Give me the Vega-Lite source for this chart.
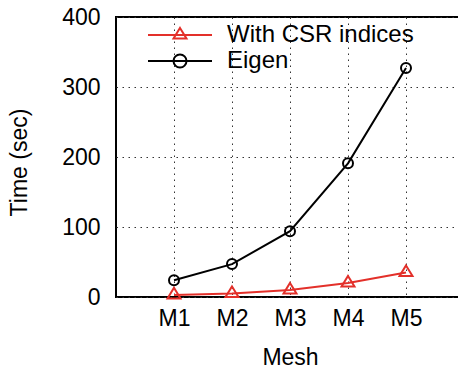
{
  "$schema": "https://vega.github.io/schema/vega-lite/v6.json",
  "autosize": "none",
  "padding": {"left": 116, "top": 17, "right": 0, "bottom": 72},
  "width": 348,
  "height": 280,
  "background": "white",
  "data": {
    "values": [
      {"mesh": "M1", "series": "With CSR indices", "time": 3},
      {"mesh": "M2", "series": "With CSR indices", "time": 5},
      {"mesh": "M3", "series": "With CSR indices", "time": 10},
      {"mesh": "M4", "series": "With CSR indices", "time": 20},
      {"mesh": "M5", "series": "With CSR indices", "time": 35},
      {"mesh": "M1", "series": "Eigen", "time": 24},
      {"mesh": "M2", "series": "Eigen", "time": 47},
      {"mesh": "M3", "series": "Eigen", "time": 94},
      {"mesh": "M4", "series": "Eigen", "time": 191},
      {"mesh": "M5", "series": "Eigen", "time": 327}
    ]
  },
  "encoding": {
    "x": {
      "field": "mesh", "type": "ordinal", "title": "Mesh",
      "scale": {"type": "point", "padding": 1},
      "axis": {"labelAngle": 0, "labelPadding": 10, "titlePadding": 16}
    },
    "y": {
      "field": "time", "type": "quantitative", "title": "Time (sec)",
      "scale": {"domain": [0, 400], "nice": false},
      "axis": {"values": [0, 100, 200, 300, 400], "labelPadding": 16, "titlePadding": 30, "titleY": 145}
    }
  },
  "layer": [
    {
      "mark": {"type": "line", "strokeWidth": 2},
      "encoding": {
        "color": {"field": "series", "type": "nominal", "legend": null,
          "scale": {"domain": ["With CSR indices", "Eigen"], "range": ["#e3302a", "#000000"]}}
      }
    },
    {
      "mark": {"type": "point", "filled": false, "strokeWidth": 2, "opacity": 1},
      "encoding": {
        "color": {"field": "series", "type": "nominal", "legend": null,
          "scale": {"domain": ["With CSR indices", "Eigen"], "range": ["#e3302a", "#000000"]}},
        "shape": {"field": "series", "type": "nominal", "legend": null,
          "scale": {"domain": ["With CSR indices", "Eigen"], "range": ["M0,-1.42L1.3,0.72L-1.3,0.72Z", "circle"]}},
        "size": {"value": 100}
      }
    },
    {
      "mark": {"type": "point", "filled": false, "strokeWidth": 2, "opacity": 0},
      "encoding": {
        "color": {"field": "series", "type": "nominal",
          "scale": {"domain": ["With CSR indices", "Eigen"], "range": ["#e3302a", "#000000"]},
          "legend": {"title": null, "orient": "none", "legendX": 52, "legendY": 6, "padding": 0,
            "symbolSize": 400, "symbolStrokeWidth": 2, "symbolOpacity": 1, "labelOffset": 35, "labelLimit": 0,
            "rowPadding": 2, "labelFontSize": 24, "labelFont": "Liberation Sans", "labelColor": "black"}},
        "shape": {"field": "series", "type": "nominal",
          "scale": {"domain": ["With CSR indices", "Eigen"], "range": [
            "M-3.2,0L3.2,0M0,-0.71L0.65,0.36L-0.65,0.36Z",
            "M-3.2,0L3.2,0M0.65,0A0.65,0.65,0,1,1,-0.65,0A0.65,0.65,0,1,1,0.65,0"]},
          "legend": {"title": null, "orient": "none", "legendX": 52, "legendY": 6, "padding": 0,
            "symbolSize": 400, "symbolStrokeWidth": 2, "symbolOpacity": 1, "labelOffset": 35, "labelLimit": 0,
            "rowPadding": 2, "labelFontSize": 24, "labelFont": "Liberation Sans", "labelColor": "black"}}
      }
    }
  ],
  "resolve": {
    "scale": {"color": "independent", "shape": "independent"},
    "legend": {"color": "independent", "shape": "independent"}
  },
  "config": {
    "view": {"stroke": "black", "strokeWidth": 2},
    "axis": {
      "labelFont": "Liberation Sans", "labelFontSize": 23, "labelColor": "black",
      "titleFont": "Liberation Sans", "titleFontSize": 23, "titleFontWeight": "normal", "titleColor": "black",
      "ticks": false, "domain": false,
      "grid": true, "gridColor": "#333333", "gridDash": [1.5, 4.5], "gridWidth": 1, "gridOpacity": 1
    }
  }
}
